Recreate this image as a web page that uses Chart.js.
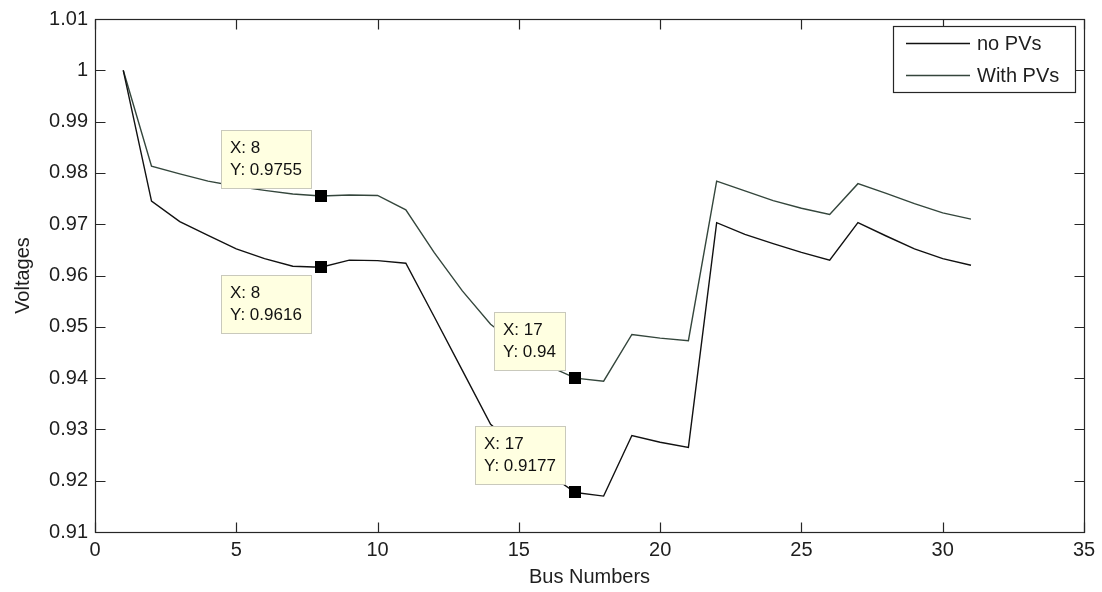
<!DOCTYPE html>
<html>
<head>
<meta charset="utf-8">
<title>Bus voltage profile</title>
<script src="https://cdn.jsdelivr.net/npm/chart.js@4/dist/chart.umd.min.js"></script>
<style>
  html, body { margin: 0; padding: 0; background: #ffffff; }
  #wrap { width: 1102px; height: 592px; }
</style>
</head>
<body>
<div id="wrap"><canvas id="chart" width="1102" height="592"></canvas></div>
<script>
// Bus indices and per-unit voltages for the two cases
const buses = [1, 2, 3, 4, 5, 6, 7, 8, 9, 10, 11, 12, 13, 14, 15, 16, 17, 18, 19, 20, 21, 22, 23, 24, 25, 26, 27, 28, 29, 30, 31];
const voltagesNoPV = [1.0000, 0.9745, 0.9705, 0.9678, 0.9652, 0.9633, 0.9618, 0.9616, 0.9630, 0.9629, 0.9624, 0.9520, 0.9415, 0.9310, 0.9262, 0.9215, 0.9177, 0.9170, 0.9288, 0.9275, 0.9265, 0.9703, 0.9680, 0.9662, 0.9645, 0.9630, 0.9703, 0.9677, 0.9652, 0.9633, 0.9620];
const voltagesWithPV = [1.0000, 0.9813, 0.9798, 0.9784, 0.9774, 0.9766, 0.9759, 0.9755, 0.9757, 0.9756, 0.9728, 0.9645, 0.9570, 0.9505, 0.9462, 0.9425, 0.9400, 0.9394, 0.9485, 0.9478, 0.9473, 0.9784, 0.9765, 0.9746, 0.9731, 0.9719, 0.9779, 0.9760, 0.9740, 0.9722, 0.9710];
const seriesNames = ['no PVs', 'With PVs'];

// Axis tick values
const xTickValues = [0, 5, 10, 15, 20, 25, 30, 35];
const yTickValues = [0.91, 0.92, 0.93, 0.94, 0.95, 0.96, 0.97, 0.98, 0.99, 1.00, 1.01];

// Data cursors: which bus and which series each one marks
const tipBuses = [8, 8, 17, 17];
const tipSeries = [1, 0, 1, 0];

// Presentation settings
const FONT = '"Liberation Sans", Arial, Helvetica, sans-serif';
const TEXT_COLOR = '#1e1e1e';
const tipPlacement = ['above', 'below', 'above', 'above'];
const lineColors = ['#111111', '#34463c'];

const toPoints = vals => buses.map((b, i) => ({ x: b, y: vals[i] }));

const fmtTip = v => Number(v.toFixed(4)).toString();

const matlabFrame = {
  id: 'matlabFrame',
  afterDatasetsDraw(chart) {
    const { ctx, chartArea: a, scales: { x, y } } = chart;
    ctx.save();

    // Axes box with inward tick marks on all four sides
    const L = Math.round(a.left) + 0.5, R = Math.round(a.right) + 0.5;
    const T = Math.round(a.top) + 0.5, B = Math.round(a.bottom) + 0.5;
    ctx.strokeStyle = '#262626';
    ctx.lineWidth = 1.2;
    ctx.strokeRect(L, T, R - L, B - T);
    ctx.beginPath();
    const tl = 10;
    x.ticks.forEach(t => {
      const px = Math.round(x.getPixelForValue(t.value)) + 0.5;
      ctx.moveTo(px, B); ctx.lineTo(px, B - tl);
      ctx.moveTo(px, T); ctx.lineTo(px, T + tl);
    });
    y.ticks.forEach(t => {
      const py = Math.round(y.getPixelForValue(t.value)) + 0.5;
      ctx.moveTo(L, py); ctx.lineTo(L + tl, py);
      ctx.moveTo(R, py); ctx.lineTo(R - tl, py);
    });
    ctx.stroke();

    // Data cursors: square marker plus a yellow label box
    ctx.font = '17px ' + FONT;
    tipBuses.forEach((bus, k) => {
      const vals = chart.data.datasets[tipSeries[k]].data;
      const pt = vals.find(p => p.x === bus);
      const px = x.getPixelForValue(pt.x);
      const py = y.getPixelForValue(pt.y);
      const lines = ['X: ' + pt.x, 'Y: ' + fmtTip(pt.y)];
      const w = Math.max(...lines.map(s => ctx.measureText(s).width)) + 18;
      const h = 58;
      const right = Math.round(px - 10);
      const top = tipPlacement[k] === 'above' ? Math.round(py - 8 - h) : Math.round(py + 8);
      const left = Math.round(right - w);
      ctx.fillStyle = '#ffffe1';
      ctx.fillRect(left, top, right - left, h);
      ctx.strokeStyle = '#c9c9bc';
      ctx.lineWidth = 1;
      ctx.strokeRect(left + 0.5, top + 0.5, right - left, h);
      ctx.fillStyle = '#111111';
      ctx.textBaseline = 'middle';
      ctx.textAlign = 'left';
      ctx.fillText(lines[0], left + 9, top + 18);
      ctx.fillText(lines[1], left + 9, top + 40);
      ctx.fillStyle = '#000000';
      ctx.fillRect(Math.round(px - 6), Math.round(py - 6), 12, 12);
    });

    // Legend box in the upper right corner of the axes
    const lx = 893, ly = 26, lw = 182, lh = 66;
    ctx.fillStyle = '#ffffff';
    ctx.fillRect(lx, ly, lw, lh);
    ctx.strokeStyle = '#262626';
    ctx.lineWidth = 1.2;
    ctx.strokeRect(lx + 0.5, ly + 0.5, lw, lh);
    ctx.font = '20px ' + FONT;
    ctx.textBaseline = 'middle';
    ctx.textAlign = 'left';
    chart.data.datasets.forEach((ds, i) => {
      const yy = ly + 17 + i * 32 + 0.5;
      ctx.strokeStyle = ds.borderColor;
      ctx.lineWidth = 1.4;
      ctx.beginPath();
      ctx.moveTo(lx + 13, yy);
      ctx.lineTo(lx + 77, yy);
      ctx.stroke();
      ctx.fillStyle = TEXT_COLOR;
      ctx.fillText(ds.label, lx + 84, yy + 1);
    });

    ctx.restore();
  }
};

new Chart(document.getElementById('chart'), {
  type: 'line',
  data: {
    datasets: [
      { label: seriesNames[0], data: toPoints(voltagesNoPV), borderColor: lineColors[0], borderWidth: 1.4, pointRadius: 0, tension: 0, fill: false },
      { label: seriesNames[1], data: toPoints(voltagesWithPV), borderColor: lineColors[1], borderWidth: 1.4, pointRadius: 0, tension: 0, fill: false }
    ]
  },
  options: {
    responsive: false,
    animation: false,
    devicePixelRatio: 1,
    layout: { padding: { top: 15, right: 18, left: 0, bottom: 0 } },
    plugins: {
      legend: { display: false },
      tooltip: { enabled: false },
      title: { display: false }
    },
    scales: {
      x: {
        type: 'linear',
        min: 0,
        max: 35,
        afterBuildTicks: s => { s.ticks = xTickValues.map(v => ({ value: v })); },
        afterFit: s => { s.height = 60; },
        grid: { display: false, drawTicks: false },
        border: { display: false },
        ticks: {
          color: TEXT_COLOR,
          font: { family: FONT, size: 20 },
          padding: 6,
          maxRotation: 0,
          callback: v => String(v)
        },
        title: {
          display: true,
          text: 'Bus Numbers',
          color: TEXT_COLOR,
          font: { family: FONT, size: 20 },
          padding: { top: 0, bottom: 3 }
        }
      },
      y: {
        type: 'linear',
        min: 0.91,
        max: 1.01,
        afterBuildTicks: s => { s.ticks = yTickValues.map(v => ({ value: v })); },
        afterFit: s => { s.width = 95; },
        grid: { display: false, drawTicks: false },
        border: { display: false },
        ticks: {
          color: TEXT_COLOR,
          font: { family: FONT, size: 20 },
          padding: 7,
          callback: v => Number(v.toFixed(2)).toString()
        },
        title: {
          display: true,
          text: 'Voltages',
          color: TEXT_COLOR,
          font: { family: FONT, size: 20 },
          padding: { top: 11, bottom: 0 }
        }
      }
    }
  },
  plugins: [matlabFrame]
});
</script>
</body>
</html>
